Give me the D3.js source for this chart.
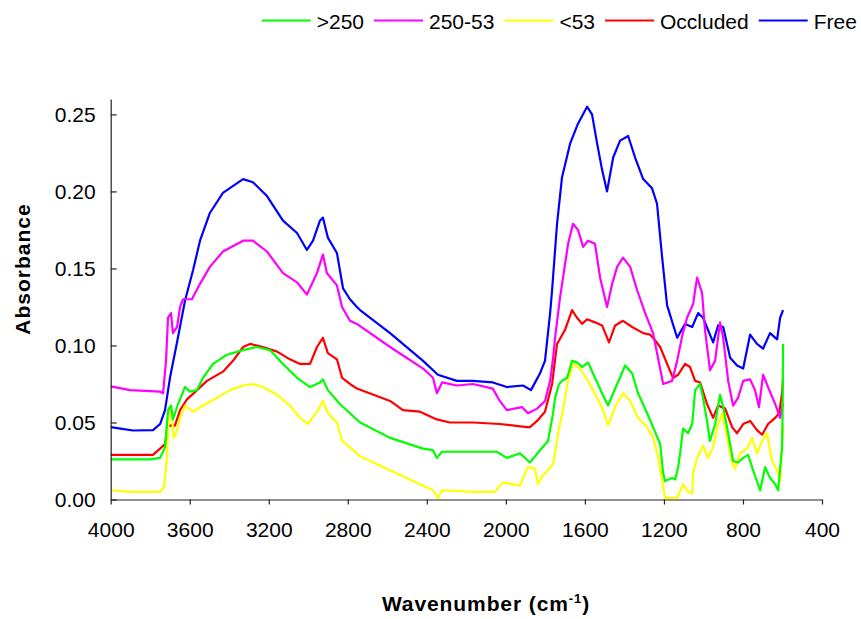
<!DOCTYPE html>
<html><head><meta charset="utf-8">
<script src="https://cdn.jsdelivr.net/npm/d3@7"></script>
<style>
html,body{margin:0;padding:0;background:#fff;}
text{font-family:"Liberation Sans",Arial,sans-serif;}
</style></head>
<body><svg id="chart" width="861" height="619"></svg>
<script>
// ---- data ----
const seriesNames = [">250", "250-53", "<53", "Occluded", "Free"];
const seriesColors = ["#00ff00", "#ff00ff", "#ffff00", "#ff0000", "#0000ff"];
const xTicks = [4000, 3600, 3200, 2800, 2400, 2000, 1600, 1200, 800, 400];
const yTicks = [0, 0.05, 0.10, 0.15, 0.20, 0.25];

const wnFree = [4000,3950,3887,3786,3750,3725,3700,3666,3624,3583,3548,3498,3432,3330,3280,3209,3128,3057,3007,2976,2941,2926,2901,2855,2824,2789,2754,2738,2586,2419,2344,2248,2167,2066,1995,1913,1873,1827,1802,1776,1766,1741,1716,1675,1635,1589,1564,1538,1513,1488,1457,1422,1381,1346,1305,1260,1235,1209,1184,1133,1093,1057,1027,1002,951,926,900,865,830,799,764,729,698,663,627,612,597];
const absFree = [0.047,0.046,0.0448,0.045,0.049,0.058,0.079,0.101,0.129,0.149,0.168,0.186,0.199,0.208,0.206,0.197,0.181,0.173,0.162,0.168,0.181,0.183,0.170,0.160,0.137,0.130,0.125,0.123,0.108,0.090,0.081,0.077,0.077,0.076,0.073,0.074,0.071,0.082,0.090,0.121,0.136,0.179,0.209,0.231,0.244,0.255,0.250,0.231,0.214,0.200,0.222,0.233,0.236,0.222,0.208,0.202,0.192,0.157,0.126,0.105,0.114,0.112,0.121,0.118,0.102,0.113,0.112,0.092,0.087,0.085,0.107,0.101,0.098,0.108,0.104,0.118,0.123];

const wn25053 = [4000,3902,3750,3735,3720,3710,3695,3685,3664,3649,3634,3589,3548,3498,3432,3330,3280,3209,3128,3057,3007,2956,2926,2906,2855,2829,2789,2754,2586,2419,2369,2349,2323,2248,2167,2066,2031,1995,1919,1888,1842,1802,1776,1761,1751,1726,1685,1660,1635,1609,1584,1549,1523,1488,1462,1437,1407,1371,1336,1295,1255,1230,1204,1159,1133,1108,1083,1052,1042,1032,1027,1007,992,967,941,916,900,875,850,825,799,764,739,719,698,673,637,612,602,597];
const abs25053 = [0.0734,0.071,0.070,0.069,0.090,0.118,0.121,0.108,0.112,0.125,0.130,0.130,0.140,0.151,0.161,0.168,0.168,0.161,0.147,0.141,0.133,0.147,0.159,0.147,0.139,0.125,0.116,0.114,0.099,0.085,0.079,0.069,0.076,0.074,0.075,0.072,0.064,0.058,0.060,0.056,0.059,0.064,0.077,0.092,0.105,0.131,0.166,0.179,0.175,0.164,0.168,0.166,0.144,0.125,0.140,0.151,0.157,0.151,0.136,0.121,0.108,0.092,0.075,0.077,0.090,0.106,0.118,0.127,0.136,0.144,0.142,0.134,0.110,0.084,0.090,0.115,0.105,0.077,0.061,0.066,0.077,0.078,0.071,0.060,0.081,0.073,0.062,0.053,0.060,0.062];

const wnOcc = [4000,3786,3750,3725,3710,3675,3649,3614,3563,3513,3432,3381,3330,3295,3229,3158,3093,3042,2991,2956,2926,2901,2855,2829,2789,2754,2586,2521,2435,2349,2283,2167,2031,1893,1878,1842,1802,1766,1741,1701,1665,1640,1614,1589,1549,1513,1478,1447,1407,1361,1305,1270,1255,1219,1184,1154,1128,1093,1068,1042,1017,982,951,926,890,855,830,799,764,729,703,673,637,617,602,597];
const absOcc = [0.029,0.029,0.033,0.036,0.048,0.048,0.058,0.065,0.071,0.077,0.083,0.090,0.099,0.101,0.099,0.096,0.091,0.088,0.088,0.099,0.105,0.095,0.091,0.079,0.075,0.072,0.064,0.058,0.057,0.052,0.050,0.050,0.049,0.047,0.047,0.051,0.057,0.075,0.101,0.110,0.123,0.118,0.114,0.117,0.115,0.113,0.102,0.113,0.116,0.112,0.108,0.107,0.105,0.099,0.088,0.079,0.081,0.088,0.086,0.077,0.076,0.062,0.053,0.061,0.059,0.047,0.043,0.049,0.051,0.045,0.042,0.049,0.053,0.056,0.069,0.079];

const wnG250 = [4000,3801,3750,3725,3710,3695,3685,3659,3624,3599,3563,3533,3482,3411,3330,3260,3194,3128,3057,2991,2941,2926,2901,2840,2789,2738,2586,2419,2369,2349,2323,2167,2046,1995,1929,1878,1827,1787,1761,1751,1731,1716,1690,1665,1640,1614,1584,1549,1513,1483,1437,1396,1361,1331,1285,1255,1219,1204,1194,1159,1143,1128,1118,1103,1078,1057,1042,1017,1002,982,967,941,916,900,875,850,825,799,774,749,713,688,663,637,622,602,599,597];
const absG250 = [0.026,0.026,0.027,0.034,0.058,0.061,0.052,0.062,0.073,0.070,0.071,0.079,0.088,0.094,0.097,0.099,0.097,0.088,0.079,0.073,0.076,0.078,0.071,0.062,0.056,0.050,0.040,0.033,0.032,0.027,0.031,0.031,0.031,0.027,0.030,0.024,0.032,0.038,0.056,0.066,0.075,0.077,0.079,0.090,0.089,0.086,0.089,0.079,0.069,0.061,0.075,0.087,0.082,0.069,0.056,0.047,0.036,0.017,0.012,0.014,0.013,0.021,0.030,0.046,0.043,0.049,0.071,0.075,0.066,0.051,0.038,0.049,0.068,0.060,0.043,0.025,0.024,0.027,0.029,0.019,0.006,0.021,0.014,0.010,0.006,0.034,0.060,0.101];

const wnL53 = [4000,3902,3750,3730,3715,3705,3695,3680,3664,3649,3624,3583,3533,3462,3396,3330,3285,3229,3158,3093,3042,3001,2956,2926,2901,2855,2829,2789,2738,2586,2419,2369,2344,2323,2167,2056,2015,1964,1929,1888,1853,1837,1812,1792,1776,1761,1751,1736,1711,1685,1660,1625,1584,1538,1508,1483,1447,1407,1371,1331,1285,1255,1230,1209,1194,1133,1103,1078,1057,1052,1032,1002,977,951,926,906,880,855,840,815,779,754,729,703,678,653,627,612,597];
const absL53 = [0.006,0.005,0.005,0.008,0.027,0.060,0.060,0.040,0.045,0.053,0.061,0.057,0.061,0.066,0.071,0.074,0.075,0.073,0.068,0.061,0.053,0.049,0.057,0.064,0.056,0.050,0.038,0.034,0.028,0.019,0.009,0.006,0.001,0.006,0.005,0.005,0.011,0.010,0.009,0.021,0.020,0.010,0.016,0.018,0.021,0.023,0.030,0.043,0.058,0.077,0.088,0.085,0.077,0.066,0.058,0.048,0.060,0.069,0.064,0.053,0.047,0.040,0.028,0.012,0.001,0.001,0.010,0.005,0.004,0.017,0.027,0.035,0.027,0.034,0.049,0.056,0.040,0.024,0.020,0.030,0.033,0.040,0.030,0.038,0.043,0.025,0.019,0.012,0.049];

const seriesWn = [wnG250, wn25053, wnL53, wnOcc, wnFree];
const seriesAbs = [absG250, abs25053, absL53, absOcc, absFree];

// ---- chart ----
const svg = d3.select("#chart");
const x = d3.scaleLinear().domain([4000, 400]).range([110.7, 822]);
const y = d3.scaleLinear().domain([0, 0.26]).range([499.5, 99]);

const line = d3.line().x(d => x(d[0])).y(d => y(d[1]));
[4, 3, 2, 1, 0].forEach(i => {
  const pts = seriesWn[i].map((w, k) => [w, seriesAbs[i][k]]);
  svg.append("path").datum(pts)
    .attr("d", line).attr("fill", "none")
    .attr("stroke", seriesColors[i]).attr("stroke-width", 2.2)
    .attr("stroke-linejoin", "round");
});

const xAxis = svg.append("g").attr("transform", `translate(0,${y(0)})`)
  .call(d3.axisBottom(x).tickValues(xTicks).tickFormat(d3.format("d")).tickSize(5).tickSizeOuter(0).tickPadding(18));
const yAxis = svg.append("g").attr("transform", `translate(${x(4000)},0)`)
  .call(d3.axisLeft(y).tickValues(yTicks).tickFormat(d3.format(".2f")).tickSizeInner(-6).tickSizeOuter(0).tickPadding(15));
[xAxis, yAxis].forEach(g => {
  g.select(".domain").attr("stroke", "#222").attr("stroke-width", 1.2);
  g.selectAll(".tick line").attr("stroke", "#222").attr("stroke-width", 1.2);
  g.selectAll(".tick text").attr("font-size", "21px").attr("fill", "#000")
    .attr("font-family", "Liberation Sans, Arial, sans-serif");
});

// axis titles
const xt = svg.append("text").attr("x", 486).attr("y", 611).attr("text-anchor", "middle")
  .attr("font-size", "21px").attr("font-weight", "bold").attr("fill", "#000")
  .attr("letter-spacing", "0.9px");
xt.append("tspan").text("Wavenumber (cm");
xt.append("tspan").attr("font-size", "13px").attr("dy", -8).text("-1");
xt.append("tspan").attr("dy", 8).text(")");

svg.append("text").attr("transform", "translate(30,269) rotate(-90)")
  .attr("text-anchor", "middle").attr("font-size", "21px").attr("font-weight", "bold")
  .attr("letter-spacing", "1px").attr("fill", "#000").text("Absorbance");

// legend
let lx = 261.7;
seriesNames.forEach((n, i) => {
  svg.append("line").attr("x1", lx).attr("x2", lx + 49).attr("y1", 20.5).attr("y2", 20.5)
    .attr("stroke", seriesColors[i]).attr("stroke-width", 2);
  const t = svg.append("text").attr("x", lx + 55).attr("y", 28.5).attr("font-size", "21px")
    .attr("fill", "#000").text(n);
  lx = lx + 55 + t.node().getComputedTextLength() + 10;
});
</script></body></html>
